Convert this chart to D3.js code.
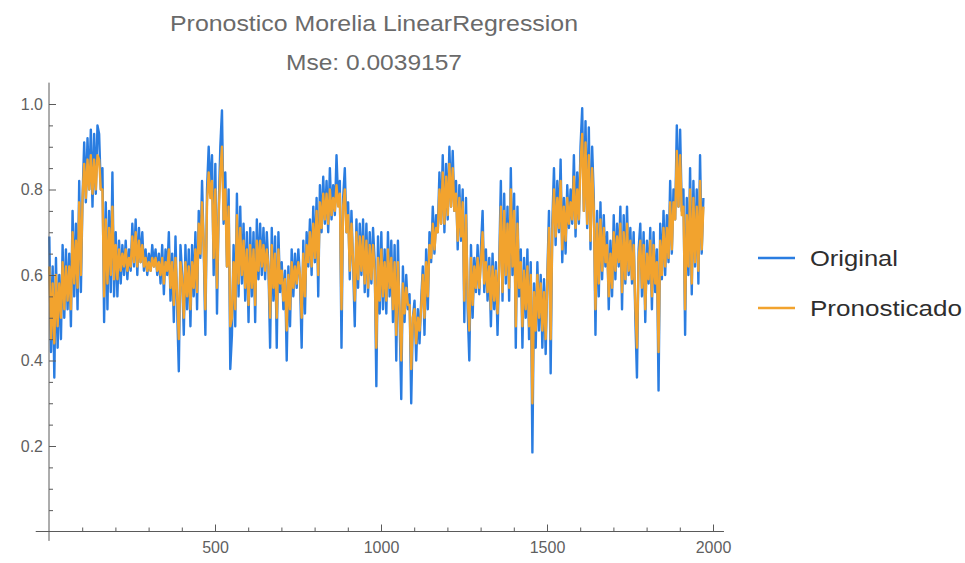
<!DOCTYPE html>
<html>
<head>
<meta charset="utf-8">
<script src="https://cdn.jsdelivr.net/npm/d3@7"></script>
<style>
  html, body { margin: 0; padding: 0; background: #fff; }
  svg { display: block; }
</style>
</head>
<body>
<svg id="chart" width="965" height="563"></svg>
<script>
// ---- Data (one sample every 5 steps) ----
const sampleStart = 1;
const sampleStep = 5;

const original = [
  0.69,0.42,0.62,0.36,0.64,0.43,0.60,0.45,0.67,0.50,
  0.66,0.52,0.65,0.48,0.75,0.55,0.72,0.52,0.82,0.56,
  0.78,0.91,0.77,0.92,0.80,0.94,0.76,0.93,0.79,0.95,
  0.93,0.80,0.85,0.49,0.77,0.52,0.75,0.56,0.84,0.55,
  0.70,0.55,0.68,0.58,0.67,0.60,0.68,0.59,0.66,0.61,
  0.72,0.62,0.73,0.60,0.71,0.63,0.70,0.61,0.66,0.60,
  0.65,0.61,0.67,0.62,0.66,0.60,0.65,0.58,0.67,0.555,
  0.66,0.60,0.70,0.54,0.65,0.49,0.69,0.52,0.375,0.67,
  0.60,0.46,0.67,0.52,0.66,0.48,0.67,0.55,0.70,0.52,
  0.75,0.64,0.82,0.66,0.46,0.80,0.90,0.79,0.88,0.60,
  0.86,0.51,0.75,0.90,0.985,0.72,0.84,0.62,0.80,0.38,
  0.46,0.67,0.48,0.79,0.55,0.76,0.58,0.72,0.54,0.70,
  0.49,0.71,0.55,0.70,0.49,0.73,0.59,0.72,0.60,0.71,
  0.59,0.70,0.62,0.43,0.71,0.54,0.69,0.43,0.70,0.56,
  0.63,0.52,0.61,0.40,0.62,0.48,0.66,0.55,0.65,0.57,
  0.66,0.59,0.43,0.68,0.51,0.70,0.62,0.73,0.60,0.76,
  0.63,0.78,0.55,0.81,0.70,0.83,0.72,0.82,0.70,0.85,
  0.73,0.81,0.74,0.88,0.77,0.82,0.43,0.78,0.85,0.70,
  0.77,0.59,0.75,0.62,0.48,0.73,0.57,0.72,0.60,0.73,
  0.56,0.72,0.55,0.70,0.58,0.71,0.63,0.34,0.69,0.51,
  0.70,0.52,0.66,0.51,0.70,0.55,0.68,0.49,0.67,0.40,
  0.68,0.50,0.31,0.62,0.49,0.60,0.52,0.555,0.30,0.50,
  0.54,0.40,0.52,0.44,0.54,0.62,0.46,0.66,0.52,0.70,
  0.63,0.76,0.65,0.74,0.70,0.84,0.72,0.88,0.70,0.86,
  0.73,0.90,0.76,0.89,0.75,0.82,0.66,0.81,0.68,0.80,
  0.49,0.78,0.52,0.40,0.67,0.50,0.64,0.56,0.67,0.555,
  0.66,0.75,0.56,0.66,0.54,0.64,0.48,0.65,0.52,0.63,
  0.46,0.63,0.82,0.54,0.79,0.58,0.76,0.54,0.85,0.60,
  0.79,0.43,0.76,0.55,0.66,0.43,0.64,0.50,0.66,0.45,
  0.63,0.185,0.58,0.43,0.63,0.47,0.60,0.43,0.59,0.415,
  0.60,0.75,0.37,0.72,0.85,0.67,0.82,0.70,0.87,0.63,
  0.78,0.65,0.81,0.71,0.80,0.72,0.88,0.69,0.84,0.72,
  0.90,0.99,0.75,0.96,0.71,0.945,0.66,0.90,0.78,0.46,
  0.75,0.55,0.77,0.59,0.74,0.62,0.70,0.52,0.68,0.55,
  0.74,0.59,0.72,0.62,0.76,0.52,0.74,0.58,0.76,0.60,
  0.71,0.58,0.70,0.50,0.36,0.66,0.72,0.55,0.70,0.49,
  0.68,0.58,0.71,0.52,0.70,0.56,0.66,0.33,0.72,0.59,
  0.75,0.60,0.74,0.63,0.82,0.65,0.80,0.73,0.95,0.76,
  0.94,0.75,0.80,0.46,0.78,0.60,0.85,0.555,0.82,0.62,
  0.80,0.58,0.88,0.65,0.78
];

const pronosticado = [
  0.62,0.45,0.58,0.44,0.60,0.48,0.58,0.50,0.63,0.52,
  0.62,0.54,0.62,0.52,0.70,0.58,0.68,0.57,0.77,0.60,
  0.78,0.86,0.78,0.87,0.80,0.88,0.79,0.87,0.80,0.88,
  0.87,0.80,0.80,0.55,0.73,0.58,0.71,0.60,0.76,0.59,
  0.67,0.59,0.66,0.61,0.65,0.62,0.66,0.61,0.64,0.62,
  0.69,0.63,0.70,0.62,0.68,0.63,0.67,0.62,0.64,0.61,
  0.63,0.61,0.64,0.62,0.64,0.61,0.63,0.60,0.64,0.58,
  0.63,0.61,0.66,0.57,0.63,0.53,0.64,0.55,0.45,0.63,
  0.59,0.50,0.63,0.55,0.62,0.52,0.63,0.57,0.66,0.56,
  0.72,0.65,0.77,0.67,0.52,0.77,0.84,0.78,0.82,0.64,
  0.80,0.57,0.74,0.84,0.90,0.73,0.80,0.62,0.76,0.48,
  0.50,0.63,0.52,0.74,0.58,0.71,0.60,0.68,0.57,0.66,
  0.53,0.67,0.57,0.66,0.53,0.68,0.61,0.68,0.62,0.67,
  0.61,0.66,0.62,0.50,0.67,0.57,0.65,0.50,0.66,0.58,
  0.61,0.54,0.59,0.47,0.60,0.52,0.63,0.57,0.62,0.58,
  0.63,0.60,0.50,0.65,0.55,0.67,0.63,0.70,0.62,0.72,
  0.64,0.75,0.60,0.77,0.71,0.79,0.73,0.79,0.72,0.80,
  0.74,0.78,0.75,0.81,0.76,0.79,0.52,0.76,0.80,0.70,
  0.74,0.61,0.72,0.63,0.54,0.70,0.59,0.69,0.61,0.69,
  0.58,0.68,0.57,0.67,0.59,0.67,0.61,0.43,0.64,0.54,
  0.66,0.55,0.63,0.54,0.66,0.57,0.64,0.52,0.63,0.46,
  0.63,0.52,0.40,0.58,0.51,0.57,0.53,0.53,0.38,0.50,
  0.52,0.44,0.50,0.47,0.52,0.60,0.50,0.63,0.55,0.67,
  0.64,0.72,0.66,0.71,0.70,0.80,0.72,0.84,0.72,0.83,
  0.74,0.86,0.76,0.85,0.75,0.79,0.68,0.78,0.69,0.77,
  0.54,0.74,0.55,0.47,0.64,0.53,0.62,0.57,0.64,0.57,
  0.63,0.70,0.58,0.63,0.56,0.62,0.52,0.62,0.54,0.61,
  0.51,0.61,0.76,0.56,0.75,0.60,0.72,0.57,0.80,0.62,
  0.75,0.48,0.72,0.57,0.63,0.48,0.61,0.52,0.62,0.48,
  0.60,0.30,0.56,0.47,0.60,0.50,0.58,0.47,0.56,0.45,
  0.59,0.71,0.45,0.70,0.80,0.69,0.78,0.71,0.82,0.66,
  0.76,0.68,0.78,0.72,0.77,0.73,0.83,0.71,0.80,0.73,
  0.86,0.93,0.75,0.91,0.72,0.88,0.68,0.85,0.75,0.52,
  0.72,0.58,0.73,0.61,0.71,0.63,0.67,0.55,0.65,0.57,
  0.70,0.61,0.69,0.63,0.72,0.56,0.70,0.59,0.72,0.61,
  0.68,0.59,0.67,0.53,0.43,0.64,0.68,0.57,0.67,0.52,
  0.65,0.59,0.68,0.55,0.67,0.58,0.63,0.42,0.68,0.60,
  0.71,0.62,0.71,0.64,0.77,0.66,0.77,0.73,0.89,0.76,
  0.88,0.74,0.76,0.52,0.74,0.62,0.80,0.58,0.78,0.63,
  0.76,0.61,0.82,0.66,0.76
];

const xMajorTicks = [500, 1000, 1500, 2000];
const xMinorTicks = [100,200,300,400,600,700,800,900,1100,1200,1300,1400,1600,1700,1800,1900];
const yMajorTicks = [0.2, 0.4, 0.6, 0.8, 1.0];
const yMinorTicks = [0.05,0.1,0.15,0.25,0.3,0.35,0.45,0.5,0.55,0.65,0.7,0.75,0.85,0.9,0.95];
const seriesNames = ["Original", "Pronosticado"];
const titleLines = ["Pronostico Morelia LinearRegression", "Mse: 0.0039157"];

// ---- Drawing ----
const svg = d3.select("#chart");
const colors = { Original: "#2a7de1", Pronosticado: "#f2a32e" };
const axisColor = "#5a5a5a";
const labelColor = "#5f5f5f";
const fontFamily = "'Liberation Sans', Arial, sans-serif";

const x = d3.scaleLinear().domain([0, 2000]).range([49, 713]);
const y = d3.scaleLinear().domain([0, 1]).range([531.5, 104]);

const sampleX = i => sampleStart + i * sampleStep;

// Title
svg.append("text")
  .attr("x", 170).attr("y", 31)
  .attr("textLength", 408).attr("lengthAdjust", "spacingAndGlyphs")
  .style("font-family", fontFamily).style("font-size", "22px")
  .style("fill", "#6a6a6a")
  .text(titleLines[0]);
svg.append("text")
  .attr("x", 286).attr("y", 70)
  .attr("textLength", 176).attr("lengthAdjust", "spacingAndGlyphs")
  .style("font-family", fontFamily).style("font-size", "22px")
  .style("fill", "#6a6a6a")
  .text(titleLines[1]);

// Series
const line = d3.line()
  .x((d, i) => x(sampleX(i)))
  .y(d => y(d));

const plot = svg.append("g");
plot.append("path")
  .datum(original)
  .attr("d", line)
  .attr("fill", "none")
  .attr("stroke", colors.Original)
  .attr("stroke-width", 2.4)
  .attr("stroke-linejoin", "round");
plot.append("path")
  .datum(pronosticado)
  .attr("d", line)
  .attr("fill", "none")
  .attr("stroke", colors.Pronosticado)
  .attr("stroke-width", 2.4)
  .attr("stroke-linejoin", "round");

// Axes lines
svg.append("line")
  .attr("x1", x(-40)).attr("x2", x(2033))
  .attr("y1", y(0)).attr("y2", y(0))
  .attr("stroke", axisColor).attr("stroke-width", 1);
svg.append("line")
  .attr("x1", x(0)).attr("x2", x(0))
  .attr("y1", y(-0.022)).attr("y2", y(1.05))
  .attr("stroke", axisColor).attr("stroke-width", 1);

function styleAxis(g) {
  g.select(".domain").remove();
  g.selectAll(".tick line").attr("stroke", axisColor);
  g.selectAll(".tick text")
    .style("font-family", fontFamily)
    .style("font-size", "16px")
    .style("fill", labelColor);
}

// X axis ticks (pointing up into the plot)
svg.append("g")
  .attr("transform", `translate(0,${y(0)})`)
  .call(d3.axisBottom(x).tickValues(xMajorTicks).tickSizeInner(-7).tickSizeOuter(0).tickPadding(10).tickFormat(d3.format("d")))
  .call(styleAxis);
svg.append("g")
  .attr("transform", `translate(0,${y(0)})`)
  .call(d3.axisBottom(x).tickValues(xMinorTicks).tickSizeInner(-4).tickSizeOuter(0).tickFormat(""))
  .call(styleAxis);

// Y axis ticks (pointing right into the plot)
svg.append("g")
  .attr("transform", `translate(${x(0)},0)`)
  .call(d3.axisLeft(y).tickValues(yMajorTicks).tickSizeInner(-7).tickSizeOuter(0).tickPadding(6).tickFormat(d3.format(".1f")))
  .call(styleAxis);
svg.append("g")
  .attr("transform", `translate(${x(0)},0)`)
  .call(d3.axisLeft(y).tickValues(yMinorTicks).tickSizeInner(-4).tickSizeOuter(0).tickFormat(""))
  .call(styleAxis);

// Legend
const legend = svg.append("g");
const legendRows = [
  { name: seriesNames[0], ly: 258, len: 88 },
  { name: seriesNames[1], ly: 308, len: 152 }
];
legendRows.forEach(r => {
  legend.append("line")
    .attr("x1", 758).attr("x2", 795)
    .attr("y1", r.ly).attr("y2", r.ly)
    .attr("stroke", colors[r.name]).attr("stroke-width", 2.5);
  legend.append("text")
    .attr("x", 810).attr("y", r.ly + 8)
    .attr("textLength", r.len).attr("lengthAdjust", "spacingAndGlyphs")
    .style("font-family", fontFamily).style("font-size", "22px")
    .style("fill", "#2e2e2e")
    .text(r.name);
});
</script>
</body>
</html>
